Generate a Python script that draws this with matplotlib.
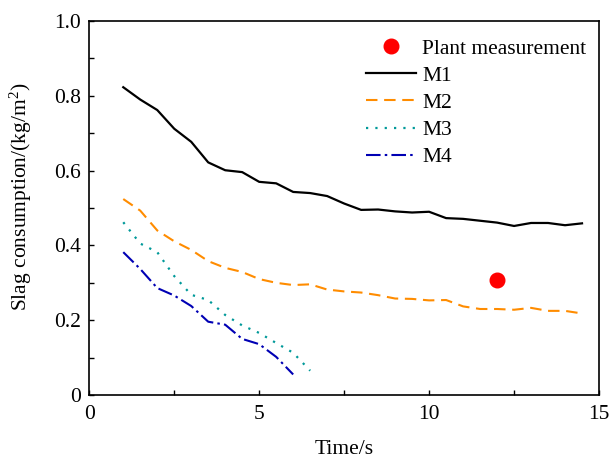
import matplotlib
matplotlib.use("Agg")
import matplotlib.pyplot as plt
from matplotlib.ticker import MultipleLocator, FuncFormatter
import numpy as np

plt.rcParams['font.family'] = ['Liberation Serif', 'DejaVu Serif']
plt.rcParams['mathtext.fontset'] = 'custom'
plt.rcParams['mathtext.rm'] = 'Liberation Serif'
plt.rcParams['mathtext.it'] = 'Liberation Serif:italic'

# data
t_m1 = [1.0, 1.5, 2.0, 2.5, 3.0, 3.5, 4.0, 4.5, 5.0, 5.5, 6.0, 6.5, 7.0, 7.5,
        8.0, 8.5, 9.0, 9.5, 10.0, 10.5, 11.0, 11.5, 12.0, 12.5, 13.0, 13.5, 14.0, 14.5]
m1 = [0.823, 0.790, 0.762, 0.712, 0.677, 0.622, 0.601, 0.596, 0.570, 0.566,
      0.543, 0.540, 0.532, 0.512, 0.495, 0.496, 0.491, 0.488, 0.490, 0.473,
      0.471, 0.466, 0.461, 0.452, 0.460, 0.460, 0.454, 0.459]
t_m2 = t_m1
m2 = [0.524, 0.493, 0.440, 0.411, 0.388, 0.358, 0.340, 0.329, 0.310, 0.300,
      0.294, 0.296, 0.282, 0.277, 0.274, 0.267, 0.258, 0.257, 0.253, 0.254,
      0.237, 0.230, 0.230, 0.228, 0.233, 0.225, 0.225, 0.218]
t_m3 = [1.0, 1.5, 2.0, 2.5, 3.0, 3.5, 4.0, 4.5, 5.0, 5.5, 6.0, 6.5]
m3 = [0.462, 0.405, 0.382, 0.318, 0.268, 0.254, 0.214, 0.186, 0.166, 0.139, 0.113, 0.065]
t_m4 = [1.0, 1.5, 2.0, 2.5, 3.0, 3.5, 4.0, 4.5, 5.0, 5.5, 6.0]
m4 = [0.382, 0.337, 0.286, 0.266, 0.238, 0.196, 0.188, 0.150, 0.136, 0.102, 0.055]
plant_t = [12.0]
plant_val = [0.307]

FS = 15.5

fig = plt.figure(figsize=(6.09, 4.59), dpi=100)
ax = fig.add_axes([0.1466, 0.1394, 0.8370, 0.8148])

ax.plot(plant_t, plant_val, 'o', color='#ff0000', markersize=10.5, label='Plant measurement', zorder=5)
ax.plot(t_m1, m1, '-', color='black', lw=1.6, label='M1')
ax.plot(t_m2, m2, '--', color='#ff8c00', lw=1.5, dashes=(5.5, 3.2), label='M2')
ax.plot(t_m3, m3, ':', color='#009999', lw=1.6, dashes=(1, 3.2), label='M3')
ax.plot(t_m4, m4, '-.', color='#0000b4', lw=1.5, dashes=(7, 2, 1.2, 2), label='M4')

ax.set_xlim(0, 15)
ax.set_ylim(0, 1.0)
ax.xaxis.set_major_locator(MultipleLocator(5))
ax.xaxis.set_minor_locator(MultipleLocator(2.5))
ax.yaxis.set_major_locator(MultipleLocator(0.2))
ax.yaxis.set_minor_locator(MultipleLocator(0.1))
ax.xaxis.set_major_formatter(FuncFormatter(lambda v, p: '0' if v == 0 else f'{v:g}'))
ax.yaxis.set_major_formatter(FuncFormatter(lambda v, p: '0' if abs(v) < 1e-9 else f'{v:.1f}'))
ax.tick_params(which='both', direction='in', top=False, right=False, labelsize=FS, width=1, length=3.5)
ax.tick_params(axis='x', pad=7)
ax.tick_params(axis='y', pad=6)
for s in ax.spines.values():
    s.set_linewidth(1.2)

ax.set_xlabel('Time/s', fontsize=FS, labelpad=12)
ax.set_ylabel(r'Slag consumption/(kg/m$^{2}$)', fontsize=FS)
ax.yaxis.set_label_coords(-0.108, 0.53)

leg = ax.legend(loc='upper right', frameon=False, fontsize=FS, handlelength=2.3,
                handletextpad=0.3, labelspacing=0.33, borderaxespad=0.0,
                bbox_to_anchor=(0.992, 0.976))

fig.savefig('out.png', dpi=100)
